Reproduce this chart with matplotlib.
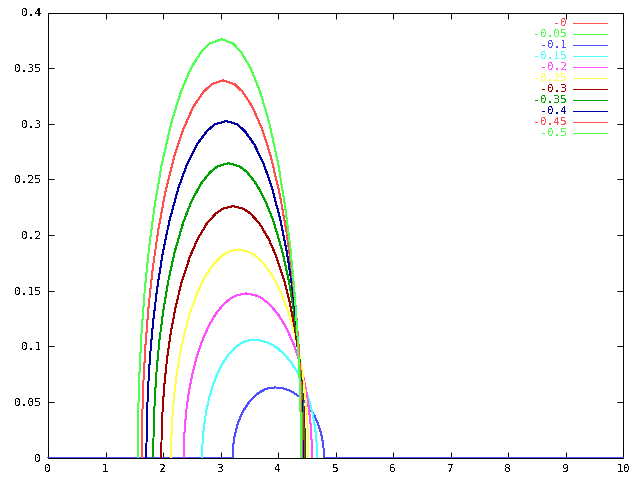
import matplotlib
matplotlib.use("Agg")
import matplotlib.pyplot as plt
from matplotlib.ticker import FuncFormatter

plt.rcParams['font.family'] = ['DejaVu Sans Mono']
plt.rcParams['text.antialiased'] = False

labels = ['-0', '-0.05', '-0.1', '-0.15', '-0.2', '-0.25', '-0.3', '-0.35', '-0.4', '-0.45', '-0.5']
colors = ['#ff5050', '#50ff50', '#5050ff', '#50ffff', '#ff50ff', '#ffff50',
          '#a00000', '#00a000', '#0000a0', '#ff5050', '#50ff50']

# each hump: heights going up to the top,
# x on the rising side and x on the falling side at those heights.
# -0 and -0.05 show nothing.
h_10 = [0, .0063, .0126, .0189, .0252, .0315, .0378, .0441, .0504, .0548, .0586, .0611, .0624, .063]
l_10 = [3.21, 3.214, 3.225, 3.244, 3.272, 3.309, 3.358, 3.422, 3.506, 3.585, 3.678, 3.77, 3.846, 3.95]
r_10 = [4.80, 4.796, 4.783, 4.761, 4.729, 4.686, 4.63, 4.557, 4.46, 4.369, 4.263, 4.157, 4.07, 3.95]

h_15 = [0, .0106, .0212, .0318, .0424, .053, .0636, .0742, .0848, .0922, .0986, .1028, .1049, .106]
l_15 = [2.68, 2.685, 2.698, 2.722, 2.755, 2.801, 2.86, 2.937, 3.04, 3.136, 3.249, 3.361, 3.453, 3.58]
r_15 = [4.68, 4.675, 4.658, 4.629, 4.588, 4.533, 4.46, 4.366, 4.24, 4.122, 3.984, 3.847, 3.735, 3.58]

h_20 = [0, .0148, .0295, .0443, .059, .0738, .0885, .1033, .118, .1283, .1372, .1431, .146, .1475]
l_20 = [2.36, 2.365, 2.382, 2.41, 2.45, 2.505, 2.576, 2.669, 2.792, 2.908, 3.043, 3.178, 3.288, 3.44]
r_20 = [4.59, 4.584, 4.567, 4.537, 4.494, 4.436, 4.36, 4.261, 4.13, 4.007, 3.863, 3.72, 3.602, 3.44]

h_25 = [0, .0187, .0374, .0561, .0748, .0935, .1122, .1309, .1496, .1627, .1739, .1814, .1851, .187]
l_25 = [2.14, 2.146, 2.164, 2.194, 2.238, 2.297, 2.374, 2.475, 2.608, 2.733, 2.88, 3.026, 3.145, 3.31]
r_25 = [4.53, 4.524, 4.505, 4.474, 4.428, 4.367, 4.286, 4.181, 4.042, 3.912, 3.759, 3.607, 3.482, 3.31]

h_30 = [0, .0226, .0452, .0678, .0904, .113, .1356, .1582, .1808, .1966, .2102, .2192, .2237, .226]
l_30 = [1.97, 1.976, 1.995, 2.028, 2.074, 2.138, 2.22, 2.327, 2.47, 2.604, 2.761, 2.916, 3.044, 3.22]
r_30 = [4.47, 4.464, 4.445, 4.412, 4.366, 4.303, 4.22, 4.113, 3.97, 3.836, 3.68, 3.524, 3.396, 3.22]

h_35 = [0, .0265, .0529, .0794, .1058, .1323, .1587, .1852, .2116, .2301, .246, .2566, .2619, .2645]
l_35 = [1.83, 1.837, 1.857, 1.89, 1.939, 2.006, 2.092, 2.205, 2.354, 2.494, 2.658, 2.822, 2.955, 3.14]
r_35 = [4.45, 4.444, 4.424, 4.39, 4.341, 4.275, 4.188, 4.076, 3.926, 3.786, 3.622, 3.459, 3.325, 3.14]

h_40 = [0, .0303, .0605, .0908, .121, .1513, .1815, .2118, .242, .2632, .2813, .2934, .2995, .3025]
l_40 = [1.71, 1.717, 1.738, 1.774, 1.826, 1.896, 1.988, 2.107, 2.266, 2.415, 2.589, 2.762, 2.904, 3.10]
r_40 = [4.43, 4.423, 4.403, 4.369, 4.319, 4.252, 4.164, 4.05, 3.898, 3.756, 3.589, 3.423, 3.288, 3.10]

h_45 = [0, .0339, .0678, .1017, .1356, .1695, .2034, .2373, .2712, .2949, .3153, .3288, .3356, .339]
l_45 = [1.63, 1.637, 1.659, 1.696, 1.749, 1.82, 1.914, 2.036, 2.198, 2.35, 2.528, 2.705, 2.85, 3.05]
r_45 = [4.42, 4.413, 4.392, 4.357, 4.306, 4.236, 4.146, 4.028, 3.872, 3.726, 3.554, 3.383, 3.243, 3.05]

h_50 = [0, .0376, .0752, .1128, .1504, .188, .2256, .2632, .3008, .3271, .3497, .3647, .3722, .376]
l_50 = [1.56, 1.567, 1.59, 1.627, 1.682, 1.756, 1.852, 1.977, 2.144, 2.30, 2.483, 2.665, 2.814, 3.02]
r_50 = [4.40, 4.393, 4.372, 4.336, 4.285, 4.215, 4.124, 4.006, 3.848, 3.70, 3.527, 3.355, 3.215, 3.02]

heights = [[], [], h_10, h_15, h_20, h_25, h_30, h_35, h_40, h_45, h_50]
lefts = [[], [], l_10, l_15, l_20, l_25, l_30, l_35, l_40, l_45, l_50]
rights = [[], [], r_10, r_15, r_20, r_25, r_30, r_35, r_40, r_45, r_50]

fig = plt.figure(figsize=(6.4, 4.8), dpi=100)
ax = fig.add_axes([48 / 640, 22.5 / 480, 575 / 640, 445 / 480])

for i in range(len(labels)):
    h, l, r = heights[i], lefts[i], rights[i]
    x = l + r[::-1][1:]
    y = h + h[::-1][1:]
    if labels[i] == '-0.1':
        # this one sits on zero over the whole range
        x = [0] + x + [10]
        y = [0] + y + [0]
    ax.plot(x, y, color=colors[i], lw=0.7, antialiased=False,
            zorder=3, clip_on=False)
    yl = 0.9757 - i * 0.0247
    ax.text(0.9026, yl, labels[i], transform=ax.transAxes, ha='right', va='center',
            color=colors[i], fontsize=8)
    ax.plot([0.913, 0.972], [yl, yl], transform=ax.transAxes, color=colors[i],
            lw=0.7, antialiased=False)

ax.set_xlim(0, 10)
ax.set_ylim(0, 0.4)
ax.set_xticks(range(0, 11))
ax.set_yticks([i * 0.05 for i in range(9)])
ax.yaxis.set_major_formatter(FuncFormatter(lambda v, p: '%g' % round(v, 2)))
ax.tick_params(direction='in', length=4, width=0.7, top=True, right=True,
               labelsize=8, pad=5)
for s in ax.spines.values():
    s.set_linewidth(0.7)

fig.savefig('out.png', dpi=100)
